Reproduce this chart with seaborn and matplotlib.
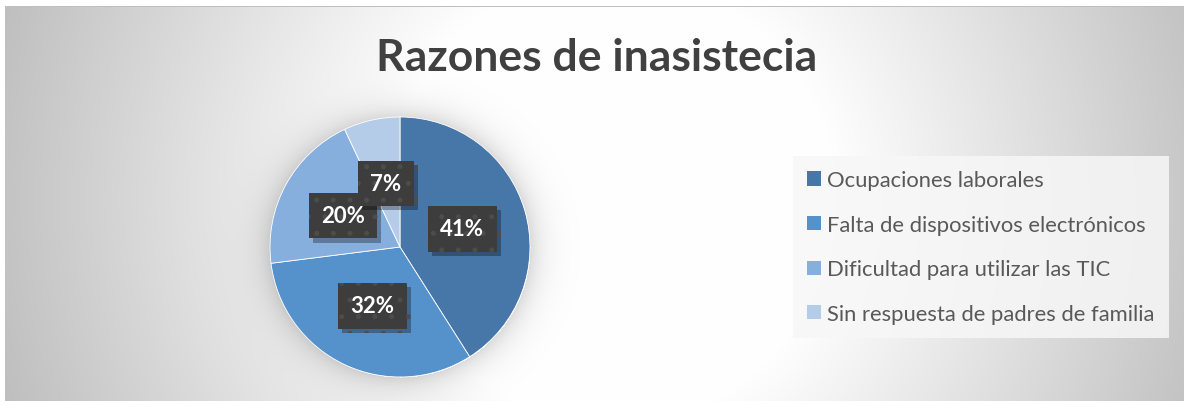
import numpy as np
import matplotlib
matplotlib.use("Agg")
import matplotlib.pyplot as plt
import matplotlib.patheffects as pe
from matplotlib.patches import Patch
import seaborn as sns

# ---- data ----
categories = ["Ocupaciones laborales",
              "Falta de dispositivos electrónicos",
              "Dificultad para utilizar las TIC",
              "Sin respuesta de padres de familia"]
values = [41, 32, 20, 7]
title = "Razones de inasistecia"

sns.set_theme(style="white")
plt.rcParams["font.family"] = ["Lato", "DejaVu Sans"]
plt.rcParams["hatch.linewidth"] = 1.2
colors = sns.color_palette(["#4677A8", "#5591CA", "#87AFDD", "#B5CCE9"])

W, H, DPI = 1184, 402, 100
fig = plt.figure(figsize=(W / DPI, H / DPI), dpi=DPI)

# ---- background gradient (pixel space) ----
yy, xx = np.mgrid[0:H, 0:W].astype(float)
d = np.hypot(xx - 610, (yy - 200) * 1.0)
v = 1 - 0.23 * np.clip((d - 220) / 380, 0, 1.1)
# soft glow around the pie
cx, cy, R = 400, 248, 130
dp = np.hypot(xx - cx, yy - cy)
v -= np.where(dp > R, 0.14 * np.exp(-(dp - R) / 14.0), 0)
v[:7, :] = 1.0
v[:, :5] = 1.0
v[7, 5:] = 0.75
bg = fig.add_axes([0, 0, 1, 1], zorder=-1)
bg.imshow(np.dstack([v, v, v]).clip(0, 1), extent=(0, W, H, 0),
          interpolation="bilinear", aspect="auto")
bg.set_xlim(0, W)
bg.set_ylim(H, 0)
bg.axis("off")

# ---- pie ----
ax = fig.add_axes([(cx - R) / W, (H - cy - R) / H, 2 * R / W, 2 * R / H])
wedges, texts, autotexts = ax.pie(
    values, colors=colors, startangle=90, counterclock=False,
    autopct="%1.0f%%", pctdistance=0.5,
    wedgeprops=dict(edgecolor="white", linewidth=0.6),
    textprops=dict(color="white", fontsize=16, fontweight="bold"))
ax.set_xlim(-1, 1)
ax.set_ylim(-1, 1)
ax.set_aspect("equal")
ax.axis("off")
for t in autotexts:
    t.set_bbox(dict(boxstyle="square,pad=0.55", facecolor="#3d3d3d",
                    edgecolor="#4c4c4c", hatch=".", linewidth=0))
    t.get_bbox_patch().set_path_effects(
        [pe.SimplePatchShadow(offset=(3, -3), shadow_rgbFace="black", alpha=0.3),
         pe.Normal()])

# ---- title ----
fig.text(597 / W, 1 - 58 / H, title, ha="center", va="center",
         fontsize=32, fontweight="bold", color="#404040")

# ---- legend ----
handles = [Patch(facecolor=c, edgecolor="none") for c in colors]
leg = fig.legend(handles, categories, loc="upper left",
                 bbox_to_anchor=(793 / W, 1 - 157 / H),
                 fontsize=15.8, frameon=True, fancybox=False,
                 handlelength=0.62, handleheight=0.62, handletextpad=0.3,
                 labelspacing=1.12, borderpad=0.65, borderaxespad=0)
leg.get_frame().set_facecolor("#f7f7f7")
leg.get_frame().set_edgecolor("none")
leg.get_frame().set_alpha(0.85)
for t in leg.get_texts():
    t.set_color("#595959")

fig.savefig("out.png", dpi=DPI)
